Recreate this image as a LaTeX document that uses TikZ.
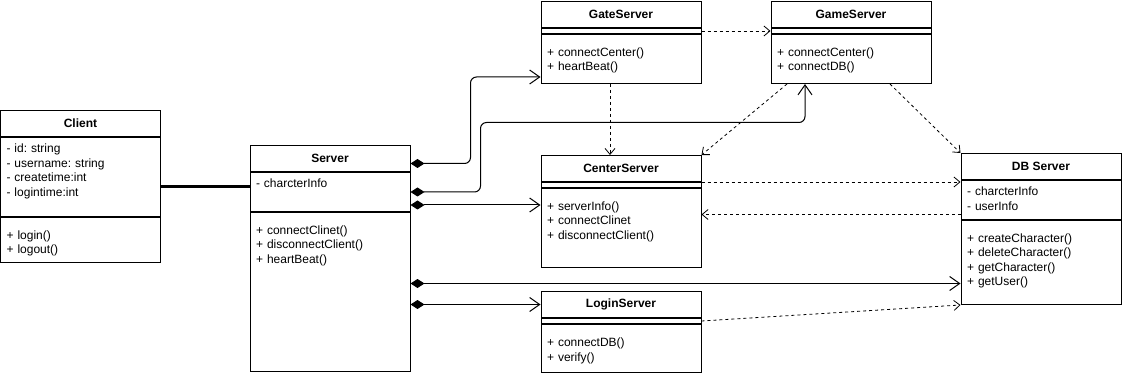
\documentclass[tikz,border=0pt]{standalone}
\usepackage{fontspec}
\setmainfont{Liberation Sans}
\usetikzlibrary{arrows.meta, positioning}
\frenchspacing

\begin{document}
\begin{tikzpicture}[
  x=1pt, y=-1pt,
  font=\fontsize{12}{14.5}\selectfont,
  head/.style={draw, line width=1pt, anchor=north, minimum width=160pt,
               minimum height=26pt, inner sep=0pt,
               font=\fontsize{12}{14.5}\selectfont\bfseries},
  part/.style={draw, line width=1pt, anchor=north, text width=148pt,
               inner xsep=6pt, inner ysep=0pt, align=left,
               text height=15.5pt, text depth=#1},
  ops/.style={part=#1, text height=22pt},
  comp/.style={{Diamond[length=14pt,width=9pt]}-{Straight Barb[length=10pt,width=14pt]},
               line width=1pt, rounded corners=6pt},
  dep/.style={-{Straight Barb[length=6pt,width=10pt]}, dash pattern=on 3pt off 3pt,
              line width=0.8pt}
]
\useasboundingbox (0,0) rectangle (1122,374);

% classes
\node[head] (cli) at (80.5,110) {Client};
\node[part=63.5pt, below=0pt of cli] (cliA) {- id: string\\- username: string\\- createtime:int\\- logintime:int};
\node[ops=23pt, below=0pt of cliA] (cliM) {+ login()\\+ logout()};

\node[head] (srv) at (330,145) {Server};
\node[part=23.5pt, below=0pt of srv] (srvA) {- charcterInfo};
\node[ops=137pt, below=0pt of srvA] (srvM) {+ connectClinet()\\+ disconnectClient()\\+ heartBeat()};

\node[head] (gate) at (621,1) {GateServer};
\node[part=0pt, text height=5pt, below=0pt of gate] (gateA) {};
\node[ops=27pt, below=0pt of gateA] (gateM) {+ connectCenter()\\+ heartBeat()};

\node[head] (game) at (851,1) {GameServer};
\node[part=0pt, text height=5pt, below=0pt of game] (gameA) {};
\node[ops=27pt, below=0pt of gameA] (gameM) {+ connectCenter()\\+ connectDB()};

\node[head] (cen) at (621,155) {CenterServer};
\node[part=0pt, text height=5pt, below=0pt of cen] (cenA) {};
\node[ops=57pt, below=0pt of cenA] (cenM) {+ serverInfo()\\+ connectClinet\\+ disconnectClient()};

\node[head] (log) at (621,291) {LoginServer};
\node[part=0pt, text height=5pt, below=0pt of log] (logA) {};
\node[ops=26pt, below=0pt of logA] (logM) {+ connectDB()\\+ verify()};

\node[head] (db) at (1041,153) {DB Server};
\node[part=23.5pt, below=0pt of db] (dbA) {- charcterInfo\\- userInfo};
\node[ops=62pt, below=0pt of dbA] (dbM) {+ createCharacter()\\+ deleteCharacter()\\+ getCharacter()\\+ getUser()};

% association
\coordinate (c0) at ([yshift=-9.5pt]cliA.east);
\draw[line width=3pt] (c0) -- (c0 -| srvA.west);

% compositions
\coordinate (s1) at ([yshift=-5pt]srv.east);
\draw[comp] (s1) -- ++(60,0) |- ([yshift=7pt]gateM.south west);
\coordinate (g1) at ([xshift=-46pt]gameM.south);
\draw[comp] (srvA.east) -- ++(70,0) -- ++(0,-69.5) -| (g1);
\coordinate (s3) at ([yshift=-13pt]srvA.east);
\draw[comp] (s3) -- (s3 -| cenM.west);
\coordinate (s4) at ([yshift=8.5pt]srvM.east);
\draw[comp] (s4) -- (s4 -| dbM.west);
\coordinate (s5) at ([yshift=-12.5pt]srvM.east);
\draw[comp] (s5) -- (s5 -| log.west);

% dependencies
\draw[dep] (gateA.east) -- (gameA.west);
\draw[dep] ([xshift=-11pt]gateM.south) -- ([xshift=-11pt]cen.north);
\draw[dep] ([xshift=-64pt]gameM.south) -- (cen.north east);
\draw[dep] ([xshift=39pt]gameM.south) -- (db.north west);
\draw[dep] (cen.south east) -- (cen.south east -| db.west);
\coordinate (b6) at ([yshift=-14.5pt]dbA.west);
\draw[dep] (b6) -- (b6 -| cenM.east);
\draw[dep] (logA.east) -- (dbM.south west);
\end{tikzpicture}
\end{document}
